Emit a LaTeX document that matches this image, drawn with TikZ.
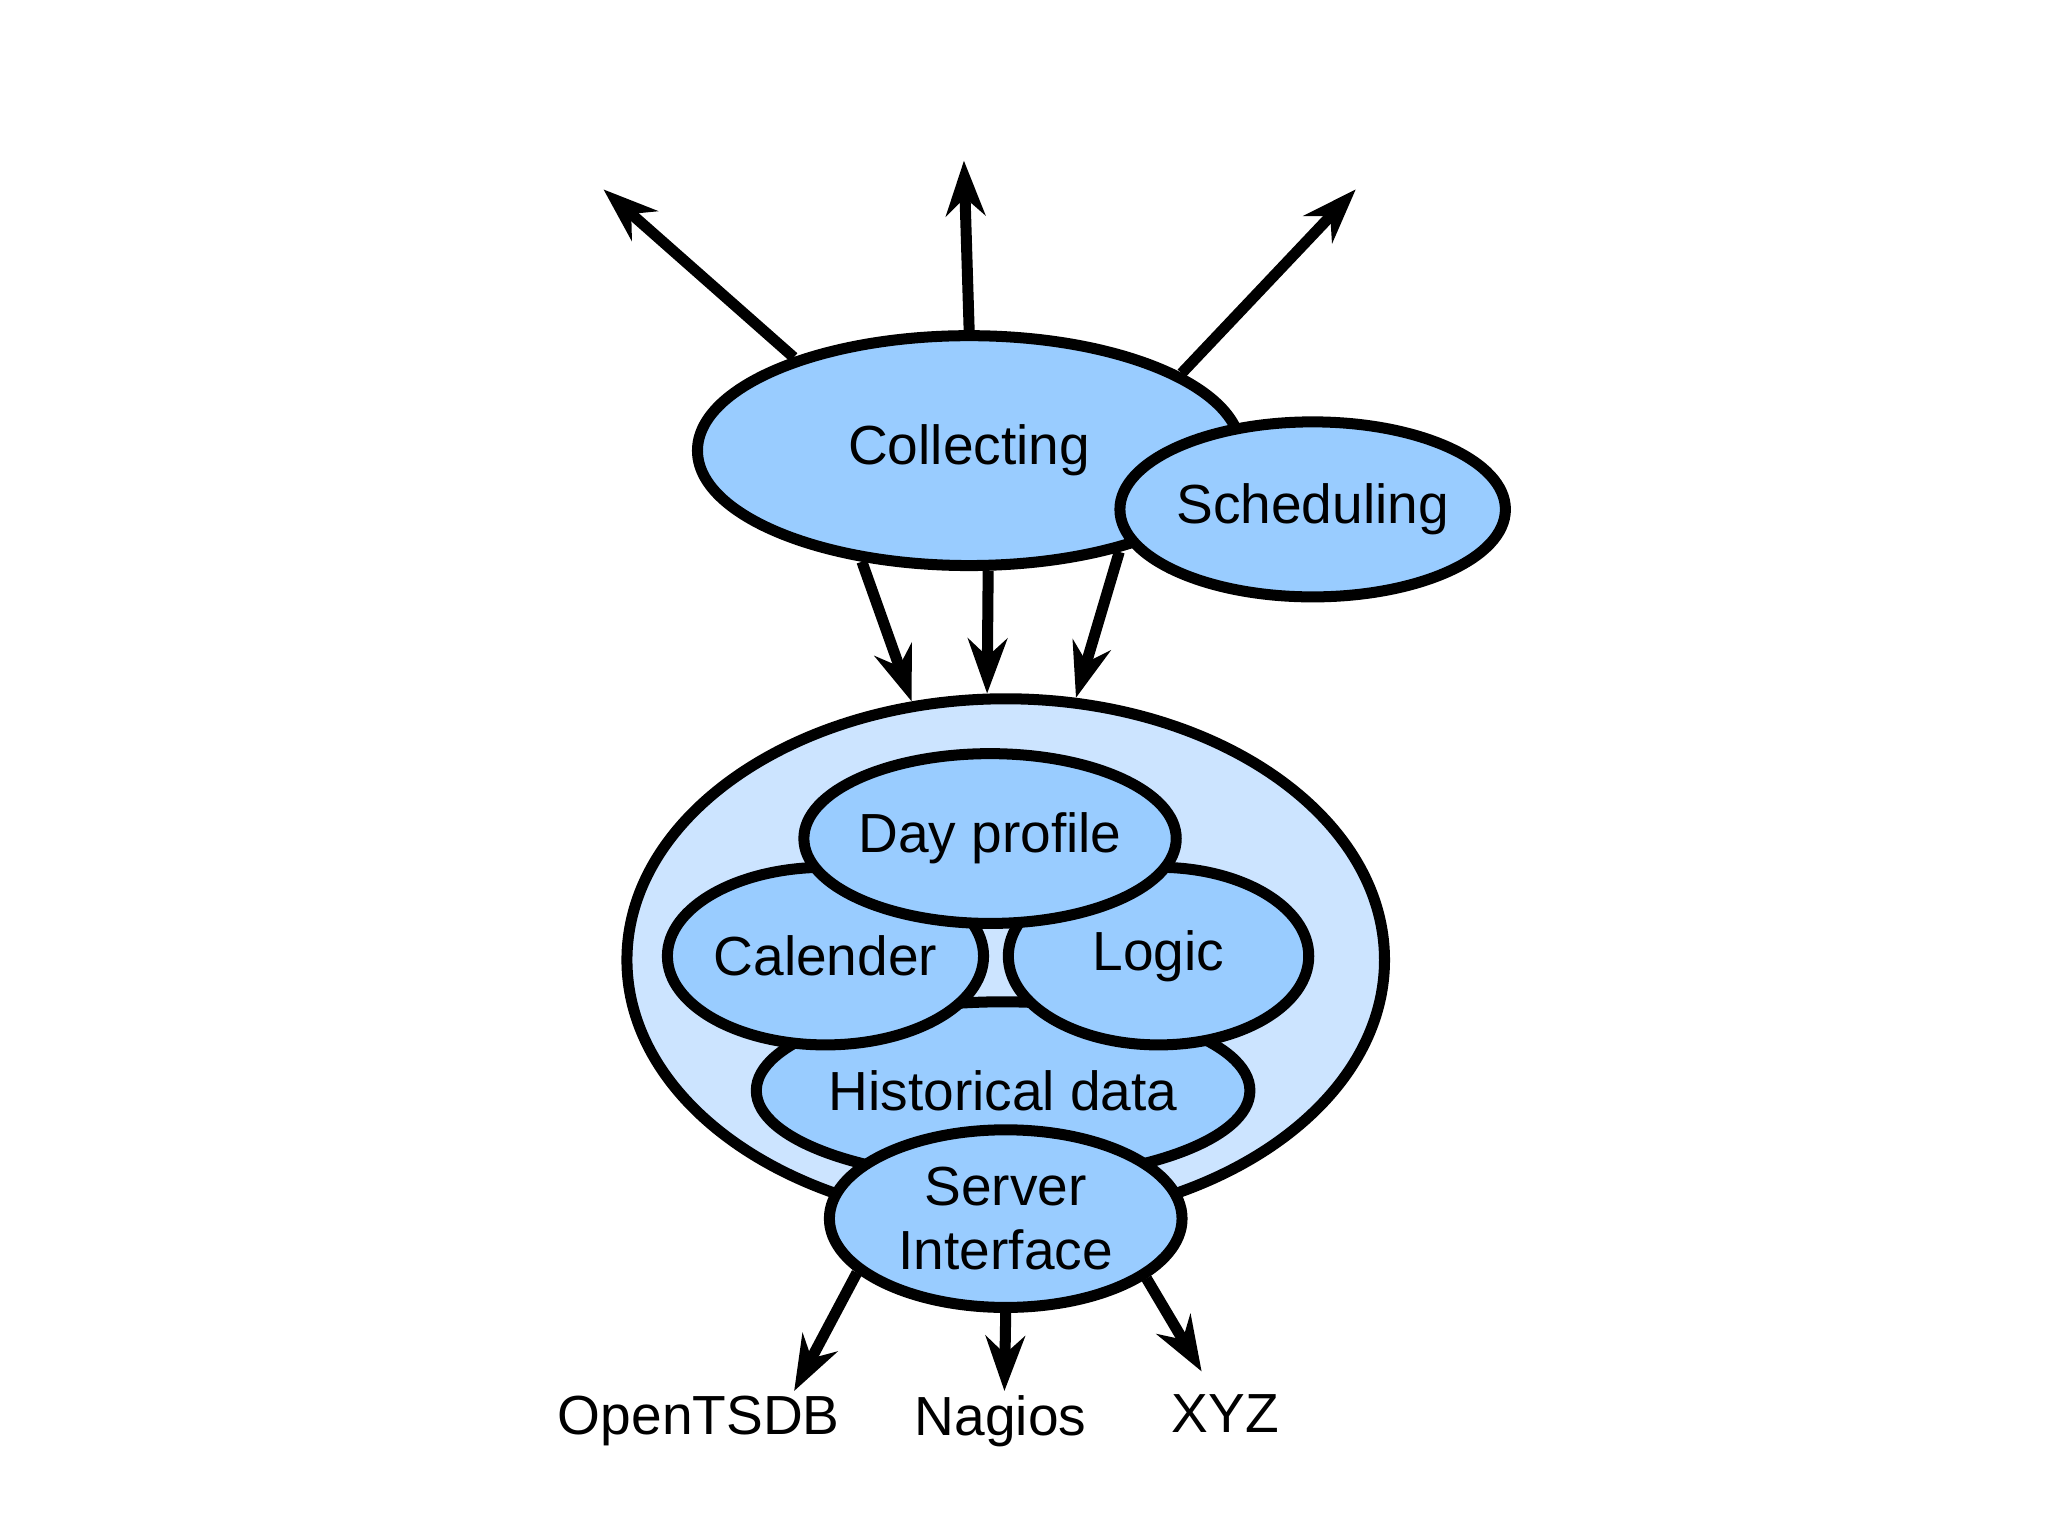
\documentclass[tikz,border=0pt]{standalone}
\usepackage{fontspec}
\setmainfont{Liberation Sans}
\usetikzlibrary{shapes.geometric, arrows.meta}
\definecolor{partblue}{HTML}{99CCFF}
\definecolor{paleblue}{HTML}{CCE4FF}
\tikzset{
    every node/.style = {font=\fontsize{12}{14}\selectfont},
    part/.style = {ellipse, draw=black, line width=2.4pt, fill=partblue, inner sep=0pt},
    flow/.style = {line width=2.4pt, -{Stealth[length=4.2mm,width=3mm]}}
}
\begin{document}
\begin{tikzpicture}
    \useasboundingbox (0,0) rectangle (15.68,-11.75);
    % system
    \node[part, fill=paleblue, minimum width=5.8cm, minimum height=4cm] (system) at (7.70,-7.35) {};
    \node[part, minimum width=3.06cm, minimum height=1.36cm] (history) at (7.68,-8.35) {Historical data};
    \node[part, minimum width=2.36cm, minimum height=1.36cm] (calender) at (6.32,-7.32) {Calender};
    \node[part, minimum width=2.30cm, minimum height=1.36cm] (logic) at (8.87,-7.32) {Logic};
    \node[part, minimum width=2.70cm, minimum height=1.30cm] (dayprofile) at (7.58,-6.42) {Day profile};
    \node[part, minimum width=2.70cm, minimum height=1.36cm, align=center] (server) at (7.70,-9.33) {Server\\Interface};
    % input
    \node[part, minimum width=4.16cm, minimum height=1.76cm] (collecting) at (7.42,-3.45) {Collecting};
    \node[part, minimum width=2.70cm, minimum height=1.34cm] (scheduling) at (10.05,-3.90) {Scheduling};
    % outputs
    \node (opentsdb) at (5.35,-10.88) {OpenTSDB};
    \node (nagios) at (7.66,-10.88) {Nagios};
    \node (xyz) at (9.38,-10.82) {XYZ};
    \coordinate (outleft) at (4.62,-1.45);
    \coordinate (outup) at (7.38,-1.23);
    \coordinate (outright) at (10.38,-1.45);
    \coordinate (tsdbtip) at (6.08,-10.65);
    \coordinate (nagiostip) at (7.69,-10.65);
    \coordinate (xyztip) at (9.20,-10.50);
    \draw[flow] (collecting.152) -- (outleft);
    \draw[flow] (collecting.north) -- (outup);
    \draw[flow] (collecting.20) -- (outright);
    \draw[flow] (collecting.226) -- (system.110);
    \draw[flow] (collecting.279) -- (system.94);
    \draw[flow] (collecting.326) -- (system.75);
    \draw[flow] (server.200) -- (tsdbtip);
    \draw[flow] (server.south) -- (nagiostip);
    \draw[flow] (server.337) -- (xyztip);
\end{tikzpicture}
\end{document}
